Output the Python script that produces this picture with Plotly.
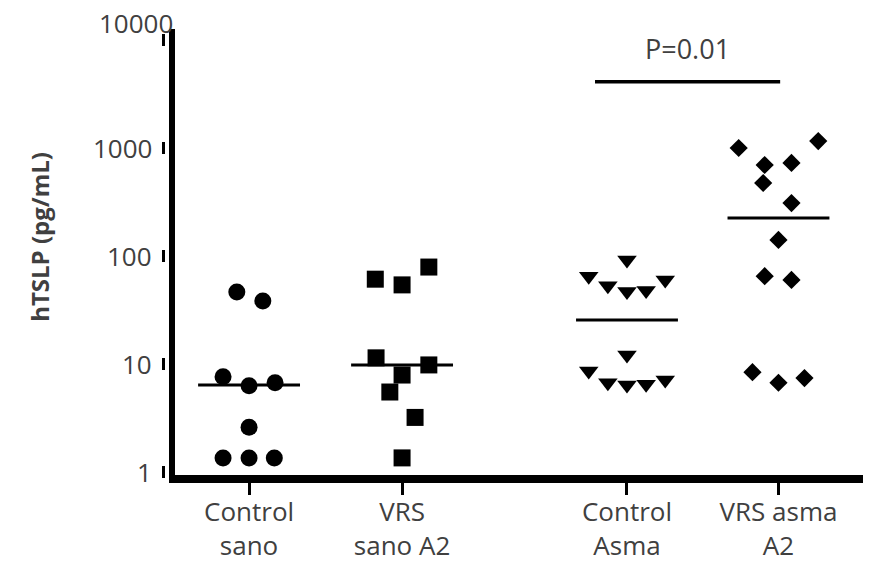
import math
import plotly.graph_objects as go

# ---- data ----
groups = ["Control<br>sano", "VRS<br>sano A2", "Control<br>Asma", "VRS asma<br>A2"]
group_pos = [1, 2, 3.47, 4.46]

control_sano = [46.4, 38.3, 7.6, 6.3, 6.7, 2.6, 1.35, 1.35, 1.35]
control_sano_jit = [-0.08, 0.09, -0.17, 0.0, 0.17, 0.0, -0.17, 0.0, 0.165]

vrs_sano = [61, 54, 79, 11.4, 9.8, 7.9, 5.5, 3.2, 1.35]
vrs_sano_jit = [-0.175, 0.0, 0.175, -0.17, 0.175, 0.0, -0.08, 0.085, 0.0]

control_asma = [92, 65, 53, 47, 48, 60, 12.1, 8.6, 6.7, 6.4, 6.5, 7.1]
control_asma_jit = [0.0, -0.25, -0.125, 0.0, 0.125, 0.25, 0.0, -0.25, -0.125, 0.0, 0.125, 0.25]

vrs_asma = [1000, 1160, 696, 727, 474, 309, 141, 65, 60, 8.4, 6.7, 7.4]
vrs_asma_jit = [-0.26, 0.26, -0.09, 0.085, -0.1, 0.085, 0.0, -0.09, 0.085, -0.17, 0.0, 0.17]

medians = [6.4, 9.8, 25.5, 225]

y_tick_vals = [1, 10, 100, 1000, 10000]
y_tick_text = ["1", "10", "100", "1000", "10000"]

y_title = "hTSLP (pg/mL)"
p_label = "P=0.01"
p_bar_value = 4100
p_text_value = 8430
p_groups = (2, 3)

# ---- style ----
FONT = "Open Sans"
GRAY = "#404040"
series = [
    (control_sano, control_sano_jit, "circle", 17),
    (vrs_sano, vrs_sano_jit, "square", 17),
    (control_asma, control_asma_jit, "triangle-down", 17),
    (vrs_asma, vrs_asma_jit, "diamond", 14),
]
half_w = 0.333
Y_RANGE = [-0.028, 4.102]
PLOT_H = 566 - 21 - 99
PLOT_W = 871 - 167

fig = go.Figure()

for gi, (vals, jit, sym, sz) in enumerate(series):
    fig.add_trace(go.Scatter(
        x=[group_pos[gi] + j for j in jit], y=vals, mode="markers",
        marker=dict(symbol=sym, size=sz, color="black"),
        cliponaxis=False, showlegend=False, hoverinfo="y"))

for gi, m in enumerate(medians):
    fig.add_trace(go.Scatter(
        x=[group_pos[gi] - half_w, group_pos[gi] + half_w], y=[m, m],
        mode="lines", line=dict(color="black", width=3),
        showlegend=False, hoverinfo="skip"))

# significance bar
a, b = p_groups
fig.add_trace(go.Scatter(
    x=[group_pos[a] - 0.209, group_pos[b] + 0.011], y=[p_bar_value, p_bar_value],
    mode="lines", line=dict(color="black", width=3.5),
    showlegend=False, hoverinfo="skip", cliponaxis=False))
fig.add_annotation(
    x=(group_pos[a] - 0.209 + group_pos[b] + 0.011) / 2, y=math.log10(p_text_value),
    xref="x", yref="y", text=p_label, showarrow=False,
    font=dict(family=FONT, size=27, color=GRAY))

# y tick marks (short vertical bars detached from the axis) + labels
bar_x = -11.5 / PLOT_W
bar_half = 6.0 / PLOT_H
for v, t in zip(y_tick_vals, y_tick_text):
    frac = (math.log10(v) - Y_RANGE[0]) / (Y_RANGE[1] - Y_RANGE[0])
    fig.add_shape(type="line", xref="paper", yref="paper",
                  x0=bar_x, x1=bar_x, y0=frac - bar_half, y1=frac + bar_half,
                  line=dict(color="black", width=3))
    last = (v == y_tick_vals[-1])
    fig.add_annotation(
        x=0, xref="paper", xanchor="right", y=math.log10(v), yref="y",
        text=t, showarrow=False,
        xshift=(0 if last else -21), yshift=(17 if last else 0),
        font=dict(family=FONT, size=26, color=GRAY))

# y title
fig.add_annotation(
    x=0, xref="paper", xanchor="center", xshift=-135, y=0.534, yref="paper",
    yanchor="middle",
    text="<b>" + y_title + "</b>", textangle=-90, showarrow=False,
    font=dict(family=FONT, size=24, color=GRAY))

fig.update_layout(
    width=871, height=566,
    margin=dict(l=167, r=0, t=21, b=99),
    paper_bgcolor="white", plot_bgcolor="white",
    showlegend=False,
    xaxis=dict(
        range=[0.516, 5.117], tickmode="array", tickvals=group_pos, ticktext=groups,
        ticks="outside", ticklen=12, tickwidth=3, tickcolor="black",
        ticklabelstandoff=-5,
        showline=True, linewidth=8, linecolor="black",
        showgrid=False, zeroline=False,
        tickfont=dict(family=FONT, size=26, color=GRAY)),
    yaxis=dict(
        type="log", range=Y_RANGE,
        showline=True, linewidth=6, linecolor="black",
        ticks="", showticklabels=False, showgrid=False, zeroline=False),
)

fig.write_html("out.html")
